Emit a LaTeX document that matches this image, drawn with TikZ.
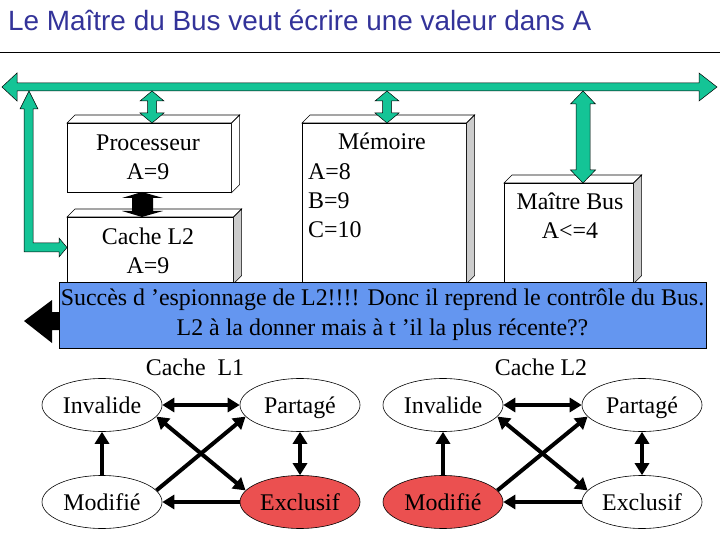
\documentclass[tikz,border=0pt]{standalone}
\usepackage{fontspec}
\setmainfont{Liberation Serif}
\newfontfamily\titlefont{Liberation Sans}
\usetikzlibrary{arrows.meta,shapes.geometric,calc}
\definecolor{busgreen}{RGB}{20,196,150}
\definecolor{titleblue}{RGB}{51,51,153}
\definecolor{msgblue}{RGB}{100,150,240}
\definecolor{redstate}{RGB}{235,80,80}
\definecolor{sidegray}{RGB}{204,204,204}
\newcommand\gvdarrow[6]{%
  \draw[garrow] (#1,#2) -- (#1+#5,#2+#6) -- (#1+#4,#2+#6) -- (#1+#4,#3-#6) -- (#1+#5,#3-#6) -- (#1,#3)
    -- (#1-#5,#3-#6) -- (#1-#4,#3-#6) -- (#1-#4,#2+#6) -- (#1-#5,#2+#6) -- cycle;}
\newcommand\boxthreed[2]{%
  \draw[face] (#1.north west) -- ++(8,-8) -- ($(#1.north east)+(8,-8)$) -- (#1.north east) -- cycle;
  \draw[#2] (#1.north east) -- ++(8,-8) -- ($(#1.south east)+(8,-8)$) -- (#1.south east) -- cycle;}
\begin{document}
\begin{tikzpicture}[x=1bp,y=-1bp,
  txt/.style={font=\fontsize{24}{29}\selectfont, inner sep=0, align=center},
  face/.style={draw=black, line width=0.6bp, fill=white},
  side/.style={draw=black, line width=0.6bp, fill=sidegray},
  frontbox/.style={draw=black, line width=0.6bp, fill=white, anchor=north west, inner sep=0},
  garrow/.style={fill=busgreen, draw=black, line width=0.5bp},
  state/.style={ellipse, draw, line width=0.6bp, minimum width=120bp, minimum height=53bp, inner sep=0,
    text height=16bp, text depth=0bp, font=\fontsize{24}{29}\selectfont},
  dbl/.style={line width=4bp, {Triangle[length=12bp,width=14bp]}-{Triangle[length=12bp,width=14bp]}},
  one/.style={line width=4bp, -{Triangle[length=12bp,width=14bp]}}]
\useasboundingbox (0,0) rectangle (720,540);

% title
\node[anchor=base west, font=\titlefont\fontsize{28}{30}\selectfont, text=titleblue, inner sep=0] (title) at (8,31)
  {Le Maître du Bus veut écrire une valeur dans A};
\draw[line width=1bp] (0,53) -- (720,53);

% boxes
\node[frontbox, minimum width=164bp, minimum height=69bp] (proc) at (67,123) {};
\boxthreed{proc}{face}
\node[frontbox, minimum width=166bp, minimum height=66bp] (cache) at (67,217) {};
\boxthreed{cache}{side}
\node[frontbox, minimum width=164bp, minimum height=160bp] (mem) at (302,123) {};
\boxthreed{mem}{side}
\node[frontbox, minimum width=129bp, minimum height=100bp] (master) at (504,183) {};
\boxthreed{master}{side}

\node[txt] (proctext) at (148,157.5) {Processeur\\A=9};
\node[txt] (cachetext) at (148,251) {Cache L2\\A=9};
\node[txt] (memtitle) at (382,141) {Mémoire};
\node[txt, align=left, anchor=west] (memtext) at (308,201) {A=8\\B=9\\C=10};
\node[txt] (mastertext) at (570,216) {Maître Bus\\A<=4};

% bus
\draw[garrow] (2,87) -- (17,73) -- (17,83) -- (699,83) -- (699,73) -- (717,87) -- (699,101) -- (699,91)
  -- (17,91) -- (17,101) -- cycle;
% left L-shaped arrow
\draw[garrow] (29,91) -- (38,109) -- (33,109) -- (33,243) -- (59,243) -- (59,238) -- (67,247.5)
  -- (59,257) -- (59,252) -- (24,252) -- (24,109) -- (20,109) -- cycle;
% bus to units
\gvdarrow{152}{91}{123}{4.5}{12}{10}
\gvdarrow{387}{91}{123}{4.5}{12}{10}
\gvdarrow{583}{91}{183}{7}{12.5}{13}
% processor <-> cache L2
\fill[black] (142,192) -- (163,198) -- (153,198) -- (153,211) -- (163,211) -- (142,217) -- (122,211)
  -- (132,211) -- (132,198) -- (122,198) -- cycle;

% message box
\node[draw=black, line width=0.8bp, fill=msgblue, minimum width=647bp, minimum height=66bp, inner sep=0,
  anchor=north west] (msg) at (59,282) {};
\node[font=\fontsize{24}{30}\selectfont, align=center, inner sep=0] (msgtext) at (382.5,315)
  {Succès d ’espionnage de L2!!!! Donc il reprend le contrôle du Bus.\\L2 à la donner mais à t ’il la plus récente??};
\fill[black] (24,321) -- (52,300) -- (52,312) -- (msg.west |- 0,312) -- (msg.west |- 0,330) -- (52,330) -- (52,343) -- cycle;

% state diagrams
\node[txt] (l1label) at (195,367) {Cache\ \ L1};
\node[txt] (l2label) at (541,367) {Cache L2};

\node[state] (i1) at (102,405) {Invalide};
\node[state] (p1) at (300,405) {Partagé};
\node[state] (m1) at (102,502) {Modifié};
\node[state, fill=redstate] (e1) at (300,502) {Exclusif};
\draw[dbl] (i1) -- (p1);
\draw[dbl] (p1) -- (e1);
\draw[one] (m1) -- (i1);
\draw[one] (e1) -- (m1);
\draw[dbl] (i1.-12) -- (e1.168);
\draw[one] (m1.12) -- (p1.192);

\node[state] (i2) at (443,405) {Invalide};
\node[state] (p2) at (642,405) {Partagé};
\node[state, fill=redstate] (m2) at (443,502) {Modifié};
\node[state] (e2) at (642,502) {Exclusif};
\draw[dbl] (i2) -- (p2);
\draw[dbl] (p2) -- (e2);
\draw[one] (m2) -- (i2);
\draw[one] (e2) -- (m2);
\draw[dbl] (i2.-12) -- (e2.168);
\draw[one] (m2.12) -- (p2.192);
\end{tikzpicture}
\end{document}
